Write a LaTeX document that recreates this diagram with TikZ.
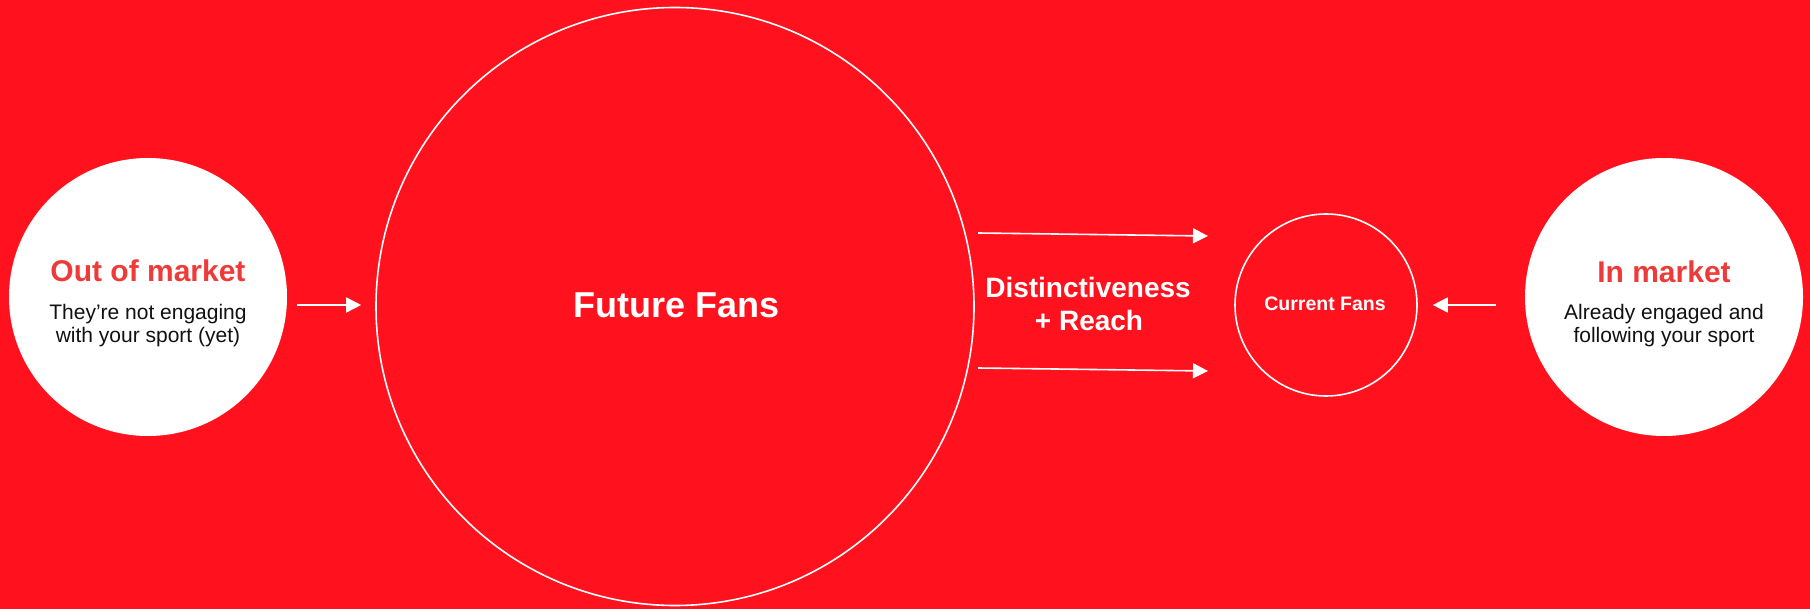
\documentclass[tikz,border=0pt]{standalone}
\usepackage{fontspec}
\setmainfont{Liberation Sans}
\usetikzlibrary{arrows.meta}
\definecolor{bgred}{RGB}{255,18,30}
\definecolor{titlered}{RGB}{238,59,57}
\definecolor{ink}{RGB}{17,17,17}
\tikzset{
  whitedisc/.style={circle, fill=white, draw=none, minimum size=278pt, inner sep=0pt},
  ring/.style={circle, draw=white, line width=1.6pt, fill=none, inner sep=0pt},
  arr/.style={draw=white, line width=1.6pt, -{Triangle[length=15pt,width=15pt]}},
  titletext/.style={anchor=base, text=titlered, font=\fontsize{30}{34}\selectfont\bfseries, inner sep=0pt},
  subtext/.style={anchor=base, text=ink, font=\fontsize{21}{23}\selectfont, inner sep=0pt},
  whitetext/.style={anchor=base, text=white, inner sep=0pt}
}
\begin{document}
\begin{tikzpicture}[x=1pt, y=-1pt]
\fill[bgred] (0,0) rectangle (1810,609);
\useasboundingbox (0,0) rectangle (1810,609);
% circles
\node[whitedisc] (outm) at (148,297) {};
\node[whitedisc] (inm) at (1664,297) {};
\node[ring, minimum size=598pt] (future) at (675,306.5) {};
\node[ring, minimum size=182pt] (cur) at (1326,305) {};
% texts
\node[titletext] (outt) at (148,282) {Out of market};
\node[subtext] (outs1) at (148,320) {They’re not engaging};
\node[subtext] (outs2) at (148,343) {with your sport (yet)};
\node[titletext] (int) at (1664,283) {In market};
\node[subtext] (ins1) at (1664,320) {Already engaged and};
\node[subtext] (ins2) at (1664,343) {following your sport};
\node[whitetext, font=\fontsize{36}{40}\selectfont\bfseries] (fft) at (677,318) {Future Fans};
\node[whitetext, font=\fontsize{19.5}{22}\selectfont\bfseries] (cft) at (1325,311) {Current Fans};
\node[whitetext, font=\fontsize{28}{32}\selectfont\bfseries] (dist) at (1088,298) {Distinctiveness};
\node[whitetext, font=\fontsize{28}{32}\selectfont\bfseries] (reach) at (1089,331) {+ Reach};
% connectors
\coordinate (t1) at (978,233);
\coordinate (t2) at (1208,236);
\coordinate (b1) at (978,368);
\coordinate (b2) at (1208,371);
\draw[arr] (t1) -- (t2);
\draw[arr] (b1) -- (b2);
\draw[arr] ([xshift=10pt]outm.east |- 0,305) -- ([xshift=-14pt]future.west |- 0,305);
\draw[arr] ([xshift=-29pt]inm.west |- cur.east) -- ([xshift=15pt]cur.east);
\end{tikzpicture}
\end{document}
